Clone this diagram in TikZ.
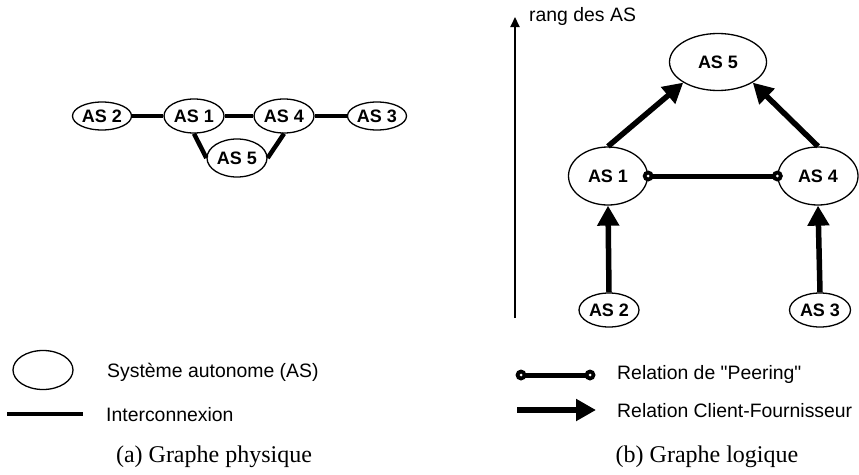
\documentclass[tikz,border=0pt]{standalone}
\usepackage{fontspec}
\setmainfont{Liberation Sans}[Ligatures=TeXOff]
\newfontfamily\captionfont{Liberation Serif}
\usetikzlibrary{shapes.geometric,arrows.meta}

\begin{document}
\begin{tikzpicture}
[
	x=1pt,y=-1pt,
	as/.style={ellipse,draw,line width=1.3pt,inner sep=0pt,font=\bfseries\fontsize{18}{20}\selectfont},
	link/.style={line width=4.5pt},
	cf/.style={line width=5.5pt,-{Triangle[length=20pt,width=21pt]}},
	peer/.style={line width=5pt},
	peerdot/.style={fill=black},
	peerhole/.style={fill=white},
	legtext/.style={anchor=west,inner sep=0pt,font=\fontsize{19.4}{22}\selectfont},
	caption/.style={inner sep=0pt,font=\captionfont\fontsize{24}{28}\selectfont}
]

	\useasboundingbox (0,0) rectangle (859,474);

	% (a) physical graph
	\node[as,minimum width=59pt,minimum height=28pt] (a2) at (102,116) {AS 2};
	\node[as,minimum width=60pt,minimum height=34pt] (a1) at (194,116) {AS 1};
	\node[as,minimum width=60pt,minimum height=34pt] (a4) at (284,116) {AS 4};
	\node[as,minimum width=59pt,minimum height=28pt] (a3) at (377,116) {AS 3};
	\node[as,minimum width=60pt,minimum height=38pt] (a5) at (237,158) {AS 5};

	\draw[link] (a2) -- (a1);
	\draw[link] (a1) -- (a4);
	\draw[link] (a4) -- (a3);
	\draw[link] (a1.south) -- (a5.west);
	\draw[link] (a4.south) -- (a5.east);

	% (b) logical graph
	\coordinate (rankbot) at (515,318);
	\coordinate (ranktop) at (515,17);
	\draw[line width=2pt,-{Triangle[length=10pt,width=9pt]}] (rankbot) -- (ranktop);
	\node[legtext] (rank) at (529,16) {rang des AS};

	\node[as,minimum width=97pt,minimum height=57pt] (b5) at (718,62) {AS 5};
	\node[as,minimum width=79pt,minimum height=58pt] (b1) at (608,176) {AS 1};
	\node[as,minimum width=80pt,minimum height=58pt] (b4) at (818,176) {AS 4};
	\node[as,minimum width=60pt,minimum height=34pt] (b2) at (609,310) {AS 2};
	\node[as,minimum width=61pt,minimum height=34pt] (b3) at (820,310) {AS 3};

	\draw[cf] (b1.north) -- (b5.south west);
	\draw[cf] (b4.north) -- (b5.south east);
	\draw[cf] (b2.north) -- (b1.south);
	\draw[cf] (b3.north) -- (b4.south);
	\draw[peer] (b1.east) -- (b4.west);
	\fill[peerdot] (b1.east) circle (5.5pt) (b4.west) circle (5.5pt);
	\fill[peerhole] (b1.east) circle (1.5pt) (b4.west) circle (1.5pt);

	% legend (a)
	\node[ellipse,draw,line width=1.3pt,minimum width=60pt,minimum height=39pt] (legas) at (43,370) {};
	\node[legtext] (legastext) at (107,372) {Système autonome (AS)};
	\coordinate (linea) at (7,414);
	\coordinate (lineb) at (83,414);
	\draw[link] (linea) -- (lineb);
	\node[legtext] (linetext) at (106,415) {Interconnexion};

	% legend (b)
	\coordinate (peera) at (521,375);
	\coordinate (peerb) at (590,375);
	\draw[peer] (peera) -- (peerb);
	\fill[peerdot] (peera) circle (5.5pt) (peerb) circle (5.5pt);
	\fill[peerhole] (peera) circle (1.5pt) (peerb) circle (1.5pt);
	\node[legtext] (peertext) at (617,374) {Relation de "Peering"};
	\coordinate (cfa) at (517,410);
	\coordinate (cfb) at (596,410);
	\draw[cf] (cfa) -- (cfb);
	\node[legtext] (cftext) at (617,411) {Relation Client-Fournisseur};

	% captions
	\node[caption] (capa) at (214,457) {(a) Graphe physique};
	\node[caption] (capb) at (707,457) {(b) Graphe logique};

\end{tikzpicture}
\end{document}
